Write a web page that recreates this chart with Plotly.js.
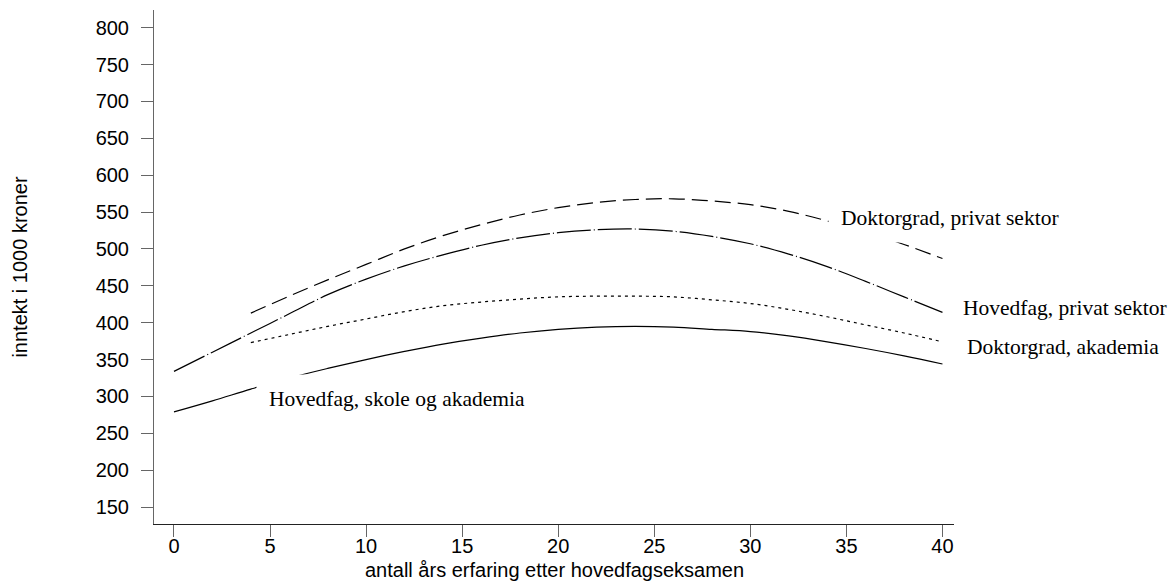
<!DOCTYPE html>
<html>
<head>
<meta charset="utf-8">
<script src="https://cdn.plot.ly/plotly-3.0.1.min.js"></script>
<style>html,body{margin:0;padding:0;background:#fff;}#chart{width:1169px;height:585px;}</style>
</head>
<body>
<div id="chart"></div>
<script>
// Years of experience
const yearsFull = [0,2,4,6,8,10,12,14,16,18,20,22,24,26,28,30,32,34,36,38,40];
const yearsFrom4 = [4,6,8,10,12,14,16,18,20,22,24,26,28,30,32,34,36,38,40];

// Income (1000 NOK)
const hovedfagPrivat = [334,360,386,412,438,459,477,492,505,515,522,526,527,524,517,507,493,476,456,435,414];
const doktorPrivat   = [413,436,458,479,500,518,533,546,556,563,567,568,565,560,551,538,523,506,487];
const doktorAkademia = [373,384,395,405,415,423,428,432,435,436,436,435,431,426,418,408,397,386,374];
const hovedfagSkole  = [279,294,310,325,338,350,361,371,379,386,391,394,395,394,391,388,382,374,365,355,344];

// Labels (positions in data units of the axes)
const labelTexts = ["Doktorgrad, privat sektor","Hovedfag, privat sektor","Doktorgrad, akademia","Hovedfag, skole og akademia"];
const labelX = [34.67, 41.0, 41.2, 4.87];
const labelY = [542, 420, 367, 297];

const xTitle = 'antall års erfaring etter hovedfagseksamen';
const yTitle = 'inntekt i 1000 kroner';

const xTicks = [0,5,10,15,20,25,30,35,40];
const yTicks = [150,200,250,300,350,400,450,500,550,600,650,700,750,800];

const xRange = [-1.04, 40.6];
const yRange = [127, 824];

const lineBase = {color:'#000', width:1.2, shape:'spline'};
const traces = [
  {x: yearsFull, y: hovedfagPrivat, mode:'lines', line: Object.assign({}, lineBase, {dash:'34px,3px,1px,3px'})},
  {x: yearsFrom4, y: doktorPrivat, mode:'lines', line: Object.assign({}, lineBase, {dash:'16px,7px'})},
  {x: yearsFrom4, y: doktorAkademia, mode:'lines', line: Object.assign({}, lineBase, {dash:'3px,4px'})},
  {x: yearsFull, y: hovedfagSkole, mode:'lines', line: Object.assign({}, lineBase, {dash:'solid'})}
];

const axisFont = {family:'Liberation Sans, Arial, sans-serif', size:20, color:'#000'};

const pad = 12;
const annotations = labelTexts.map((t,i) => ({
  x: (labelX[i] - xRange[0]) / (xRange[1] - xRange[0]), xref:'paper',
  y: labelY[i], yref:'y', text: t, showarrow:false,
  xanchor:'left', yanchor:'middle', xshift: -pad,
  font:{family:'Liberation Serif, Times New Roman, serif', size:21.5, color:'#000'},
  bgcolor: (i===0 || i===3) ? '#fff' : 'rgba(0,0,0,0)', borderpad: pad
}));
// x-axis title placed just below the tick labels
annotations.push({
  x:0.5, xref:'paper', y:0, yref:'paper', yshift:-46, text:xTitle, showarrow:false,
  xanchor:'center', yanchor:'middle', font:axisFont
});

const layout = {
  width:1169, height:585,
  margin:{l:154, r:215, t:10, b:61, pad:0},
  paper_bgcolor:'#fff', plot_bgcolor:'#fff',
  showlegend:false,
  font: axisFont,
  xaxis:{
    range:xRange, tickvals:xTicks, ticktext:xTicks.map(String),
    ticks:'outside', ticklen:12, tickcolor:'#666', tickwidth:1,
    showline:true, linecolor:'#222', linewidth:1,
    showgrid:false, zeroline:false, tickfont:axisFont, automargin:false,
    ticklabelstandoff:-8
  },
  yaxis:{
    range:yRange, tickvals:yTicks, ticktext:yTicks.map(String),
    ticks:'outside', ticklen:12, tickcolor:'#666', tickwidth:1,
    showline:true, linecolor:'#666', linewidth:1,
    showgrid:false, zeroline:false, tickfont:axisFont, automargin:false,
    ticklabelstandoff:8,
    title:{text:yTitle, font:axisFont, standoff:62}
  },
  annotations: annotations
};

Plotly.newPlot('chart', traces, layout, {staticPlot:true, displayModeBar:false});
</script>
</body>
</html>
